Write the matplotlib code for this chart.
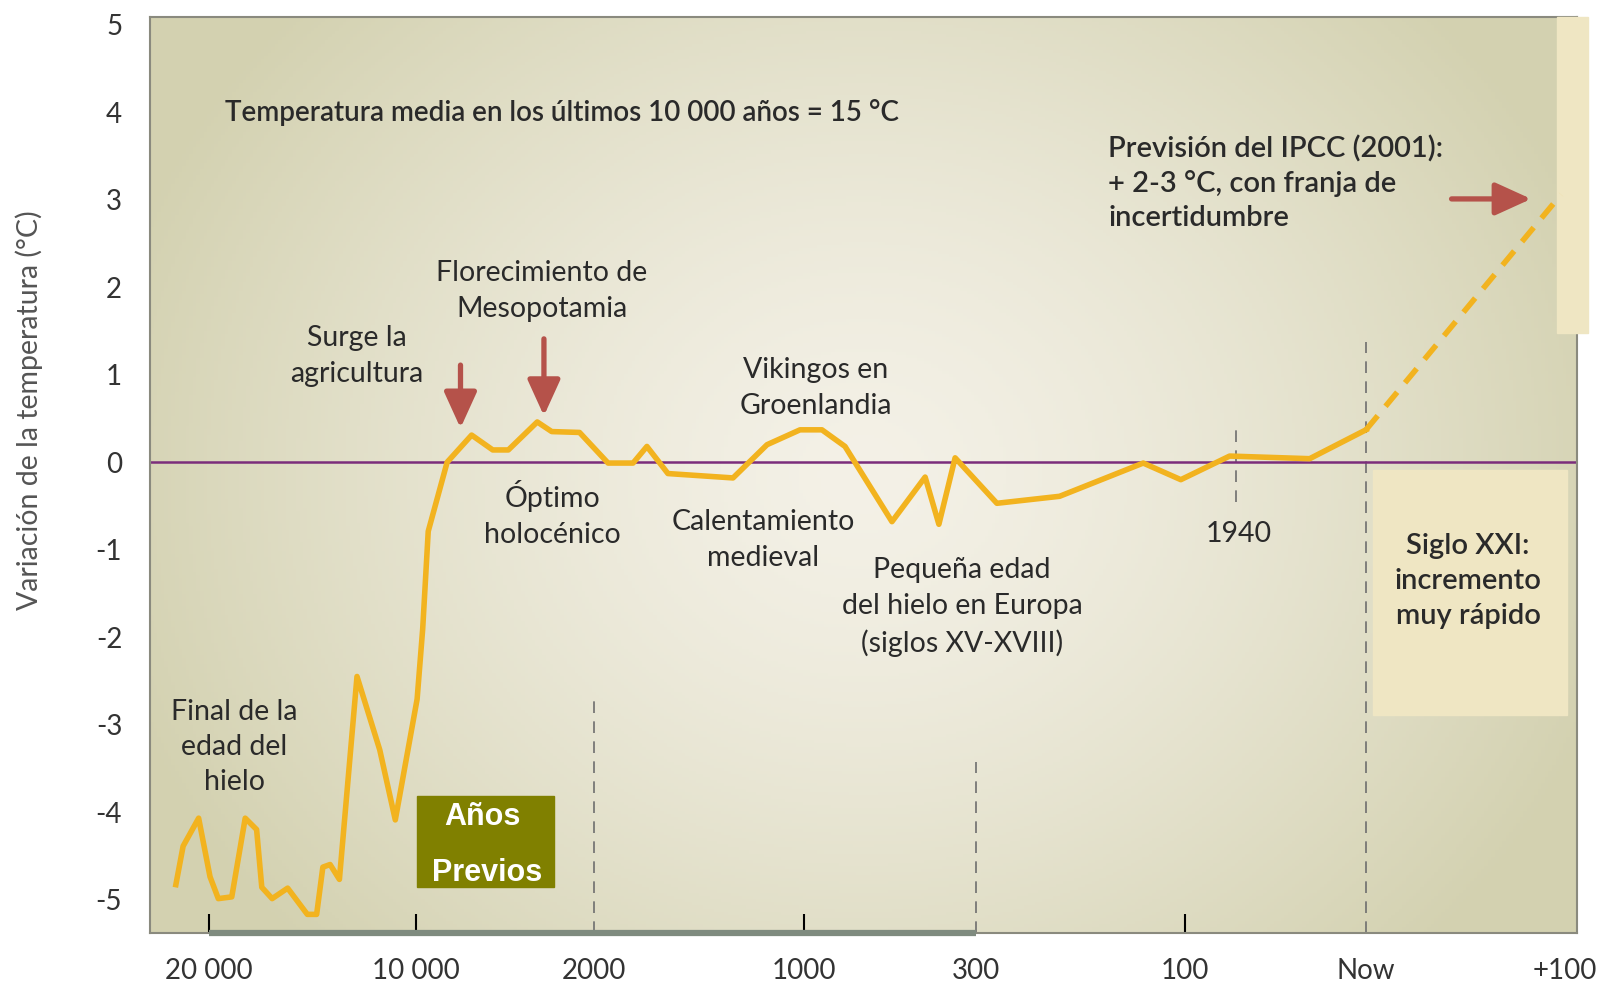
import numpy as np
import matplotlib
matplotlib.use("Agg")
import matplotlib.pyplot as plt
import matplotlib.transforms as mtransforms
from matplotlib.patches import Rectangle

plt.rcParams['font.family'] = ['Lato', 'DejaVu Sans']

# años respecto a "Now" (negativo = pasado)
years = [-21600, -21250, -20500, -19950, -19550, -18900, -18250, -17700, -17450,
         -16950, -16200, -15250, -14800, -14500, -14150, -13700, -12850, -11750,
         -11000, -9950, -9700, -9450, -8600, -7500, -6550, -5850, -4550, -3900,
         -2650, -1933, -1814, -1748, -1648, -1338, -1176, -1019, -927, -833,
         -642, -507, -451, -385, -280, -220, -140, -104, -65, -26, 0]
temps = [-4.83, -4.39, -4.07, -4.74, -4.99, -4.97, -4.07, -4.20, -4.86,
         -4.99, -4.87, -5.17, -5.17, -4.63, -4.60, -4.77, -2.45, -3.29,
         -4.09, -2.71, -1.91, -0.79, 0.0, 0.31, 0.14, 0.14, 0.46, 0.35,
         0.34, -0.01, -0.01, 0.18, -0.13, -0.18, 0.20, 0.37, 0.37, 0.18,
         -0.68, -0.17, -0.71, 0.05, -0.47, -0.39, -0.01, -0.20, 0.07, 0.04, 0.37]

# previsión IPCC
proj_years = [0, 98]
proj_temps = [0.37, 3.06]

tick_years = [-20000, -10000, -2000, -1000, -300, -100, 0, 100]
tick_labels = ['20 000', '10 000', '2000', '1000', '300', '100', 'Now', '+100']
ytick_vals = [5, 4, 3, 2, 1, 0, -1, -2, -3, -4, -5]

# escala del eje x por tramos
anchor_years = [-25000, -20000, -10000, -2000, -1000, -300, -100, -60, 0, 100, 120]
anchor_pos = [105.5, 209, 416, 594, 804, 976, 1185, 1236, 1366, 1565, 1605]


def fwd(x):
    return np.interp(x, anchor_years, anchor_pos)


def inv(p):
    return np.interp(p, anchor_pos, anchor_years)


W, H = 1604, 984
fig = plt.figure(figsize=(W / 100, H / 100), dpi=100)
ax = fig.add_axes([150 / W, 1 - 933 / H, 1427 / W, 916 / H])
ax.set_xscale('function', functions=(fwd, inv))
ymin, ymax = -5.383, 5.09
ax.set_xlim(-22850, 106)
ax.set_ylim(ymin, ymax)

# transformacion en pixeles de la imagen (para textos)
pix = mtransforms.Affine2D().scale(1 / W, -1 / H).translate(0, 1) + fig.transFigure

# fondo degradado
gx, gy = np.meshgrid(np.linspace(0, 1, 400), np.linspace(0, 1, 300))
r = np.sqrt(((gx - 0.5) / 0.55) ** 2 + ((gy - 0.5) / 0.75) ** 2)
t = np.clip(r, 0, 1) ** 1.4
c0 = np.array([244, 241, 231]) / 255
c1 = np.array([211, 209, 176]) / 255
img = c0[None, None, :] * (1 - t[..., None]) + c1[None, None, :] * t[..., None]
ax.imshow(img, extent=[0, 1, 0, 1], transform=ax.transAxes, aspect='auto',
          origin='lower', zorder=0)

for s in ax.spines.values():
    s.set_color('#8a8a7e')
    s.set_linewidth(1.5)

# recuadros claros
ax.add_patch(Rectangle((3.5, -2.89), 97.5, 2.80, color='#efe6c3', zorder=1))
ax.add_patch(Rectangle((96, 1.48), 15.6, ymax - 1.48, color='#efe6c3',
                       zorder=2.6, clip_on=False))

ax.axhline(0, color='#7b2d7b', lw=1.8, zorder=2)

# lineas discontinuas
dash = (0, (7, 5))
ax.vlines(-2000, ymin, -2.72, color='#6e6e6e', lw=1.2, linestyle=dash, zorder=1.5)
ax.vlines(-300, ymin, -3.43, color='#6e6e6e', lw=1.2, linestyle=dash, zorder=1.5)
ax.vlines(0, ymin, 1.37, color='#6e6e6e', lw=1.2, linestyle=dash, zorder=1.5)
ax.vlines(-60, -0.45, 0.46, color='#6e6e6e', lw=1.2, linestyle=dash, zorder=1.5)

ax.hlines(ymin, -20000, -300, color='#7f8b7f', lw=4.5, zorder=3, clip_on=False)

# curva
yellow = '#f2b31f'
ax.plot(years, temps, color=yellow, lw=4, zorder=3)
ax.plot(proj_years, proj_temps, color=yellow, lw=4, zorder=3,
        linestyle=(0, (3.3, 2.2)), dash_capstyle='butt')

# flechas
red = '#b5524a'
aprops = dict(arrowstyle='-|>,head_length=1.1,head_width=0.5', color=red,
              lw=3.8, shrinkA=0, shrinkB=0, mutation_scale=20)
ax.annotate('', xy=(-8000, 0.39), xytext=(-8000, 1.11), arrowprops=aprops, zorder=4)
ax.annotate('', xy=(-4250, 0.53), xytext=(-4250, 1.41), arrowprops=aprops, zorder=4)
ax.annotate('', xy=(83, 3.01), xytext=(43, 3.01), arrowprops=aprops, zorder=4,
            annotation_clip=False)

# caja "Años Previos"
ax.add_patch(Rectangle((-9933, -4.86), 6157, 1.04, color='#808000', zorder=4))
fig.text(482, 817, 'Años', transform=pix, ha='center', va='center', color='white',
         fontsize=22, fontweight='bold', family=['Liberation Sans', 'DejaVu Sans'])
fig.text(487, 873, 'Previos', transform=pix, ha='center', va='center', color='white',
         fontsize=22, fontweight='bold', family=['Liberation Sans', 'DejaVu Sans'])

# ejes
ax.set_xticks(tick_years)
ax.set_xticklabels(tick_labels)
ax.set_yticks(ytick_vals)
ax.set_yticklabels([str(v) for v in ytick_vals])
ax.tick_params(axis='x', direction='in', length=14, width=1.5, pad=18,
               labelsize=20, labelcolor='#333333')
ax.tick_params(axis='y', length=0, pad=20, labelsize=20, labelcolor='#333333')
tick_colors = ['#5b2a55', '#5b2a55', None, '#777777', None, '#777777', None, None]
for tk, c in zip(ax.xaxis.get_major_ticks(), tick_colors):
    if c is None:
        tk.tick1line.set_visible(False)
    else:
        tk.tick1line.set_color(c)
    tk.tick2line.set_visible(False)

txt = '#2a2a2a'
fig.text(29, 410, 'Variación de la temperatura (°C)', transform=pix, rotation=90,
         ha='center', va='center', fontsize=20.5, color='#555555')

fig.text(225, 113, 'Temperatura media en los últimos 10 000 años = 15 °C',
         transform=pix, ha='left', va='center', fontsize=20, fontweight='semibold',
         color=txt)
fig.text(1108, 183, 'Previsión del IPCC (2001):\n+ 2-3 °C, con franja de\nincertidumbre',
         transform=pix, ha='left', va='center', fontsize=21, fontweight='semibold',
         color=txt, linespacing=1.37)
fig.text(1468, 581, 'Siglo XXI:\nincremento\nmuy rápido', transform=pix,
         ha='center', va='center', fontsize=21, fontweight='semibold', color=txt,
         linespacing=1.43)

notes = [
    (234, 747, 'Final de la\nedad del\nhielo'),
    (357, 356, 'Surge la\nagricultura'),
    (542, 291, 'Florecimiento de\nMesopotamia'),
    (552, 514, 'Óptimo\nholocénico'),
    (816, 388, 'Vikingos en\nGroenlandia'),
    (763, 540, 'Calentamiento\nmedieval'),
    (962, 607, 'Pequeña edad\ndel hielo en Europa\n(siglos XV-XVIII)'),
    (1239, 534, '1940'),
]
for px, py, s in notes:
    fig.text(px, py, s, transform=pix, ha='center', va='center', fontsize=20.5,
             color=txt, linespacing=1.45)

fig.savefig('out.png', dpi=100)
